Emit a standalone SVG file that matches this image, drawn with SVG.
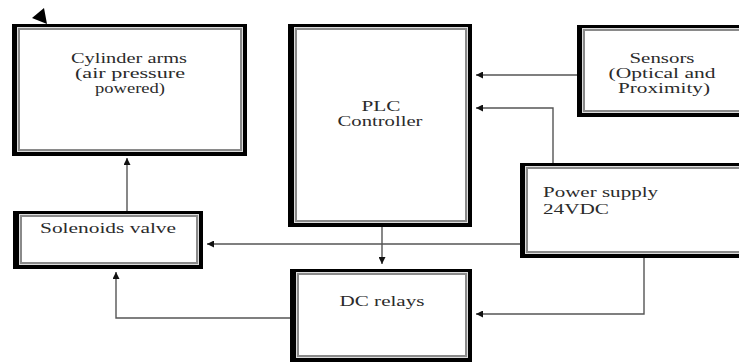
<svg xmlns="http://www.w3.org/2000/svg" width="739" height="362" viewBox="0 0 739 362">
<defs>
<marker id="ah" viewBox="0 0 10 10" refX="10" refY="5" markerWidth="9" markerHeight="7" markerUnits="userSpaceOnUse" orient="auto">
<path d="M0,0 L10,5 L0,10 z" fill="#111"/>
</marker>
</defs>
<style>
.t{font-family:"Liberation Serif","Times New Roman",serif;font-size:15px;fill:#2b2b2b;}
.c{fill:none;stroke:#555;stroke-width:1.4;}
.o{fill:#000;}
.g{fill:#fff;stroke:#8a8a8a;stroke-width:2;}
</style>
<rect width="739" height="362" fill="#fff"/>
<polygon points="32,18 44,8 47,24" fill="#000"/>

<g id="cylinder">
<rect class="o" x="12" y="24" width="235" height="132"/>
<rect fill="#ddd" x="17" y="27" width="226" height="125"/>
<rect class="g" x="19" y="29" width="222" height="121"/>
<text class="t" x="129" y="63" text-anchor="middle" textLength="116" lengthAdjust="spacingAndGlyphs">Cylinder arms</text>
<text class="t" x="130" y="78" text-anchor="middle" textLength="110" lengthAdjust="spacingAndGlyphs">(air pressure</text>
<text class="t" x="130" y="93" text-anchor="middle" textLength="70" lengthAdjust="spacingAndGlyphs">powered)</text>
</g>

<g id="plc">
<rect class="o" x="288" y="24" width="184" height="203"/>
<rect fill="#ddd" x="294" y="27" width="174" height="196"/>
<rect class="g" x="296" y="29" width="170" height="192"/>
<text class="t" x="381" y="111" text-anchor="middle" textLength="39" lengthAdjust="spacingAndGlyphs">PLC</text>
<text class="t" x="380" y="126" text-anchor="middle" textLength="85" lengthAdjust="spacingAndGlyphs">Controller</text>
</g>

<g id="sensors">
<rect class="o" x="577" y="25" width="172" height="92"/>
<rect fill="#ddd" x="582" y="28" width="163" height="85"/>
<rect class="g" x="584" y="30" width="159" height="81"/>
<text class="t" x="662" y="63" text-anchor="middle" textLength="65" lengthAdjust="spacingAndGlyphs">Sensors</text>
<text class="t" x="662" y="78" text-anchor="middle" textLength="107" lengthAdjust="spacingAndGlyphs">(Optical and</text>
<text class="t" x="664" y="93" text-anchor="middle" textLength="92" lengthAdjust="spacingAndGlyphs">Proximity)</text>
</g>

<g id="power">
<rect class="o" x="520" y="163" width="229" height="95"/>
<rect fill="#ddd" x="525" y="166" width="220" height="88"/>
<rect class="g" x="527" y="168" width="216" height="84"/>
<text class="t" x="543" y="197" textLength="115" lengthAdjust="spacingAndGlyphs">Power supply</text>
<text class="t" x="543" y="214" textLength="66" lengthAdjust="spacingAndGlyphs">24VDC</text>
</g>

<g id="solenoid">
<rect class="o" x="13" y="211" width="190" height="58"/>
<rect fill="#ddd" x="19" y="214" width="180" height="51"/>
<rect class="g" x="21" y="216" width="176" height="47"/>
<text class="t" x="108" y="233" text-anchor="middle" textLength="136" lengthAdjust="spacingAndGlyphs">Solenoids valve</text>
</g>

<g id="relays">
<rect class="o" x="290" y="269" width="182" height="93"/>
<rect fill="#ddd" x="296" y="272" width="172" height="86"/>
<rect class="g" x="298" y="274" width="168" height="82"/>
<text class="t" x="382" y="306" text-anchor="middle" textLength="85" lengthAdjust="spacingAndGlyphs">DC relays</text>
</g>

<g id="connectors">
<path class="c" d="M127,211 L127,158" marker-end="url(#ah)"/>
<path class="c" d="M382,227 L382,264" marker-end="url(#ah)"/>
<path class="c" d="M577,75 L476,75" marker-end="url(#ah)"/>
<path class="c" d="M553,163 L553,108 L476,108" marker-end="url(#ah)"/>
<path class="c" d="M520,244 L207,244" marker-end="url(#ah)"/>
<path class="c" d="M644,258 L644,314 L476,314" marker-end="url(#ah)"/>
<path class="c" d="M290,318 L116,318 L116,272" marker-end="url(#ah)"/>
</g>
</svg>
